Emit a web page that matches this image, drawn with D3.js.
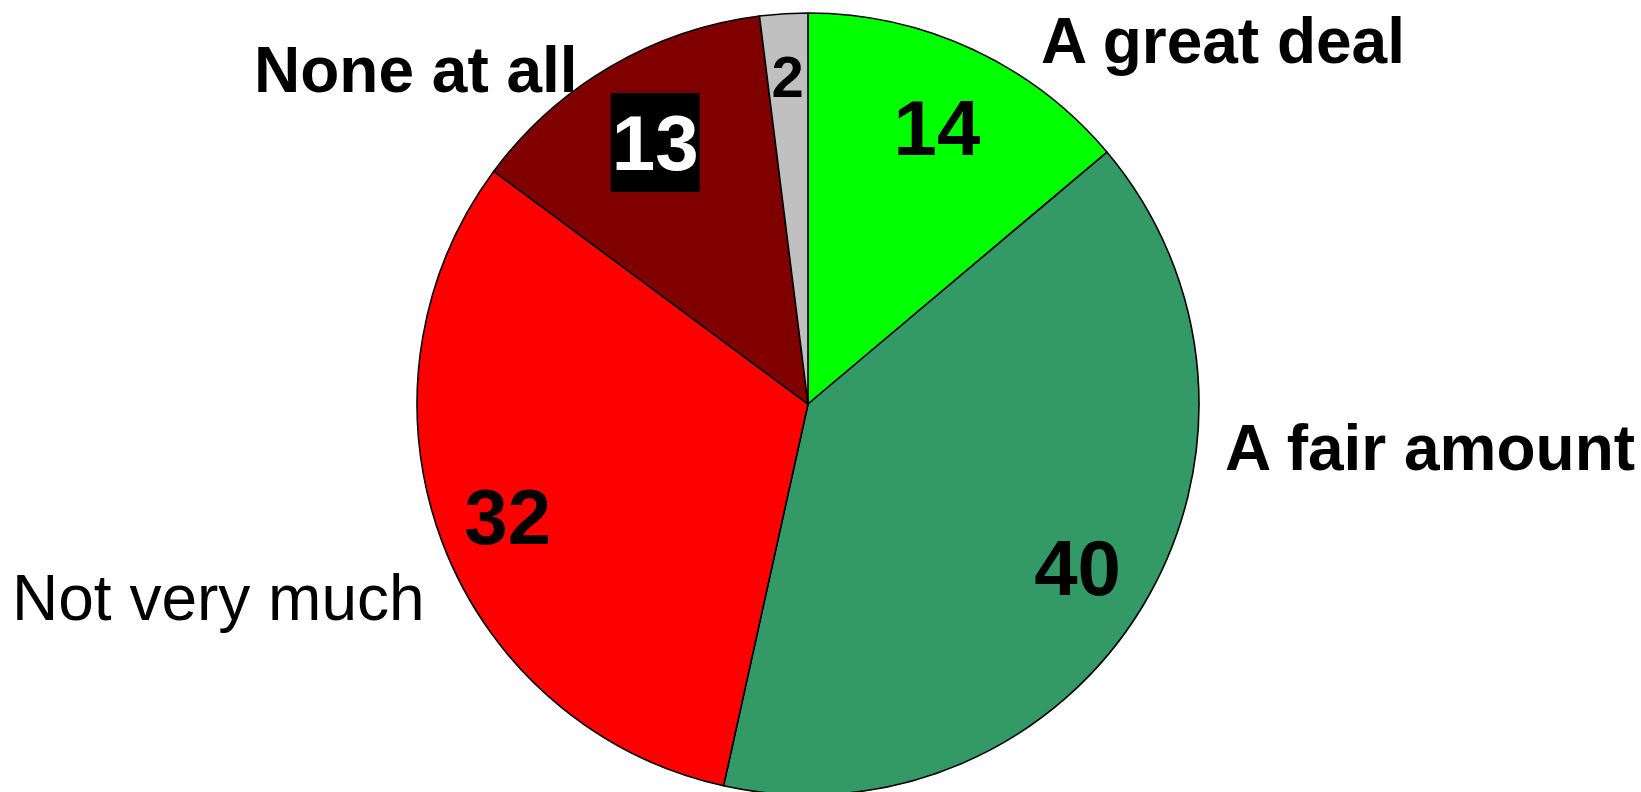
<!DOCTYPE html>
<html>
<head>
<meta charset="utf-8">
<script src="https://cdn.jsdelivr.net/npm/d3@7"></script>
<style>
  html, body { margin: 0; padding: 0; background: #fff; }
  svg { display: block; font-family: "Liberation Sans", Arial, sans-serif; }
</style>
</head>
<body>
<svg id="chart" width="1641" height="792"></svg>
<script>
// ---- data ----
const categories = ["A great deal", "A fair amount", "Not very much", "None at all", "Don't know"];
const values = [14, 40, 32, 13, 2];
const valueLabels = ["14", "40", "32", "13", "2"];
const categoryLabels = ["A great deal", "A fair amount", "Not very much", "None at all", ""];

// ---- styles / layout ----
const colors = ["#00ff00", "#339966", "#ff0000", "#800000", "#c0c0c0"];
const labelRadiusFactor = [0.782, 0.806, 0.82, 0.775, 0.84];
const valueFontSize = [78, 78, 78, 78, 58];
const valueFill = ["#000", "#000", "#000", "#fff", "#000"];
const valueBox = [false, false, false, true, false];
const catBold = [true, true, false, true, false];
// category label offsets relative to pie center (x = text start, y = baseline)
const catOffset = [[233, -341], [417, 66], [-796, 216], [-554, -312], [0, 0]];

const W = 1641, H = 792;
const cx = 808, cy = 404, R = 391;

const svg = d3.select("#chart");
const g = svg.append("g").attr("transform", `translate(${cx},${cy})`);

const pie = d3.pie().sort(null).value(d => d)(values);
const arc = d3.arc().innerRadius(0).outerRadius(R);

g.selectAll("path.slice")
  .data(pie)
  .join("path")
  .attr("class", "slice")
  .attr("d", arc)
  .attr("fill", (d, i) => colors[i])
  .attr("stroke", "#000")
  .attr("stroke-width", 1.6)
  .attr("stroke-linejoin", "round");

// value labels
pie.forEach((d, i) => {
  const r = R * labelRadiusFactor[i];
  const la = d3.arc().innerRadius(r).outerRadius(r);
  const [x, y] = la.centroid(d);
  const fs = valueFontSize[i];
  if (valueBox[i]) {
    const bw = 89, bh = 99;
    g.append("rect")
      .attr("x", x - bw / 2).attr("y", y - bh / 2)
      .attr("width", bw).attr("height", bh)
      .attr("fill", "#000");
  }
  g.append("text")
    .attr("x", x)
    .attr("y", y + fs * 0.36)
    .attr("text-anchor", "middle")
    .attr("font-size", fs)
    .attr("font-weight", "bold")
    .attr("fill", valueFill[i])
    .text(valueLabels[i]);
});

// category labels
categoryLabels.forEach((t, i) => {
  if (!t) return;
  g.append("text")
    .attr("x", catOffset[i][0])
    .attr("y", catOffset[i][1])
    .attr("font-size", 64)
    .attr("font-weight", catBold[i] ? "bold" : "normal")
    .attr("fill", "#000")
    .text(t);
});
</script>
</body>
</html>
